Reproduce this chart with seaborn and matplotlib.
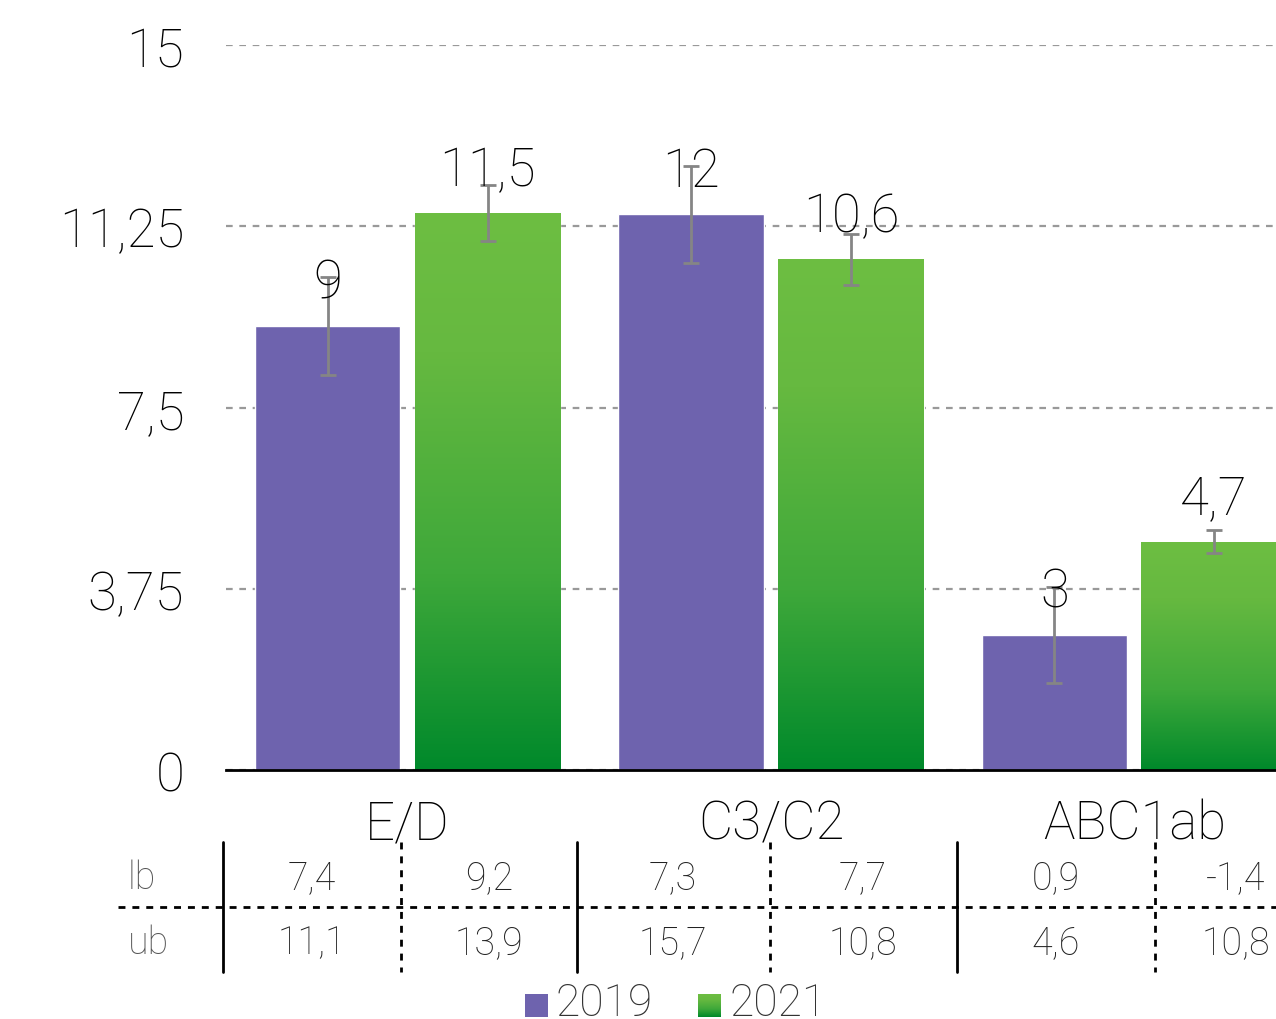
import numpy as np
import pandas as pd
import matplotlib.pyplot as plt
import seaborn as sns
from matplotlib.colors import LinearSegmentedColormap
from matplotlib.lines import Line2D
from matplotlib.patches import Rectangle

# datos
grupos = ['E/D', 'C3/C2', 'ABC1ab']
anios = ['2019', '2021']
valores_2019 = [9.19, 11.5, 2.79]
valores_2021 = [11.52, 10.57, 4.72]
etiquetas_2019 = ['9', '12', '3']
etiquetas_2021 = ['11,5', '10,6', '4,7']
err_2019 = [1.02, 1.0, 1.0]
err_2021 = [0.58, 0.53, 0.24]
lb = [7.4, 9.2, 7.3, 7.7, 0.9, -1.4]
ub = [11.1, 13.9, 15.7, 10.8, 4.6, 10.8]
yticks = [0, 3.75, 7.5, 11.25, 15]
ytick_labels = ['0', '3,75', '7,5', '11,25', '15']

morado = '#6e63ae'
verde = '#6dbd41'
cmap_verde = LinearSegmentedColormap.from_list(
    'verde', [(0, '#00892b'), (0.35, '#3ea83a'), (0.75, '#66b940'), (1, '#6dbe42')])

df = pd.DataFrame({
    'grupo': grupos * 2,
    'anio': ['2019'] * 3 + ['2021'] * 3,
    'valor': valores_2019 + valores_2021,
})

sns.set_style('white')
plt.rcParams['font.family'] = ['Roboto', 'DejaVu Sans']
plt.rcParams['font.weight'] = 'light'
plt.rcParams['text.color'] = 'black'
plt.rcParams['xtick.color'] = 'black'
plt.rcParams['ytick.color'] = 'black'

W, H = 1276, 1020
fig = plt.figure(figsize=(W / 100, H / 100), dpi=100)
ax = fig.add_axes([226 / W, 249 / H, 1 - 226 / W, 725 / H])

sns.barplot(data=df, x='grupo', y='valor', hue='anio', hue_order=anios,
            palette=[morado, verde], saturation=1, width=0.88, gap=0.09,
            errorbar=None, legend=False, ax=ax, zorder=2)

# barras verdes con degradado
grad = np.linspace(0, 1, 256).reshape(-1, 1)
for p in ax.containers[1]:
    x0, w, h = p.get_x(), p.get_width(), p.get_height()
    im = ax.imshow(grad, cmap=cmap_verde, origin='lower', aspect='auto',
                   extent=[x0, x0 + w, 0, h], zorder=2.5)
    im.set_clip_path(p)
ax.set_xlim(-0.5, 2.39)
ax.set_ylim(0, 15)

# barras de error y etiquetas
for cont, vals, errs, labs in [(ax.containers[0], valores_2019, err_2019, etiquetas_2019),
                               (ax.containers[1], valores_2021, err_2021, etiquetas_2021)]:
    xs = [b.get_x() + b.get_width() / 2 for b in cont]
    ax.errorbar(xs, vals, yerr=errs, fmt='none', ecolor='#858585',
                elinewidth=2, capsize=6, capthick=2, zorder=4)
    for x, v, t in zip(xs, vals, labs):
        ax.annotate(t, (x, v), xytext=(0, 31), textcoords='offset points',
                    ha='center', va='center', fontsize=38, color='black', zorder=5)

ax.set_yticks(yticks)
ax.set_yticklabels(ytick_labels)
ax.yaxis.grid(True, linestyle=(0, (3, 3)), color='#999999', linewidth=1.6)
ax.xaxis.grid(False)
ax.set_axisbelow(True)
for s in ['left', 'right', 'top']:
    ax.spines[s].set_visible(False)
ax.spines['bottom'].set_color('black')
ax.spines['bottom'].set_linewidth(2)
ax.tick_params(axis='y', length=0, pad=30, labelsize=38)
ax.tick_params(axis='x', length=0, pad=20, labelsize=38)
ax.set_xlabel('')
ax.set_ylabel('')


def fx(px):
    return px / W


def fy(py):
    return 1 - py / H


# tabla lb / ub
cols_x = [312, 489, 673, 863, 1056, 1236]
fig.text(fx(128), fy(878), 'lb', fontsize=27, color='#555555', ha='left', va='center')
fig.text(fx(128), fy(943), 'ub', fontsize=27, color='#555555', ha='left', va='center')
fmt = lambda v: f'{v:.1f}'.replace('.', ',')
for x, a, b in zip(cols_x, lb, ub):
    fig.text(fx(x), fy(878), fmt(a), fontsize=27, color='#222222', ha='center', va='center')
    fig.text(fx(x), fy(943), fmt(b), fontsize=27, color='#222222', ha='center', va='center')

for x in [223, 577, 957]:
    fig.add_artist(Line2D([fx(x), fx(x)], [fy(843), fy(973)], color='black', lw=2))
for x in [401, 770, 1155]:
    fig.add_artist(Line2D([fx(x), fx(x)], [fy(843), fy(973)], color='black', lw=2,
                          linestyle=(0, (2.5, 2.5))))
fig.add_artist(Line2D([fx(118), fx(1276)], [fy(908), fy(908)], color='black', lw=2,
                      linestyle=(0, (2.5, 2.5))))

# leyenda
fig.add_artist(Rectangle((fx(525), fy(1018)), 23 / W, 23 / H, transform=fig.transFigure,
                         facecolor=morado, edgecolor='none'))
fig.text(fx(556), fy(1004), '2019', fontsize=32, color='#333333', ha='left', va='center')
lax = fig.add_axes([fx(698), fy(1018), 23 / W, 23 / H])
lax.imshow(grad, cmap=cmap_verde, origin='lower', aspect='auto')
lax.axis('off')
fig.text(fx(729), fy(1004), '2021', fontsize=32, color='#333333', ha='left', va='center')

fig.savefig('out.png', dpi=100)
